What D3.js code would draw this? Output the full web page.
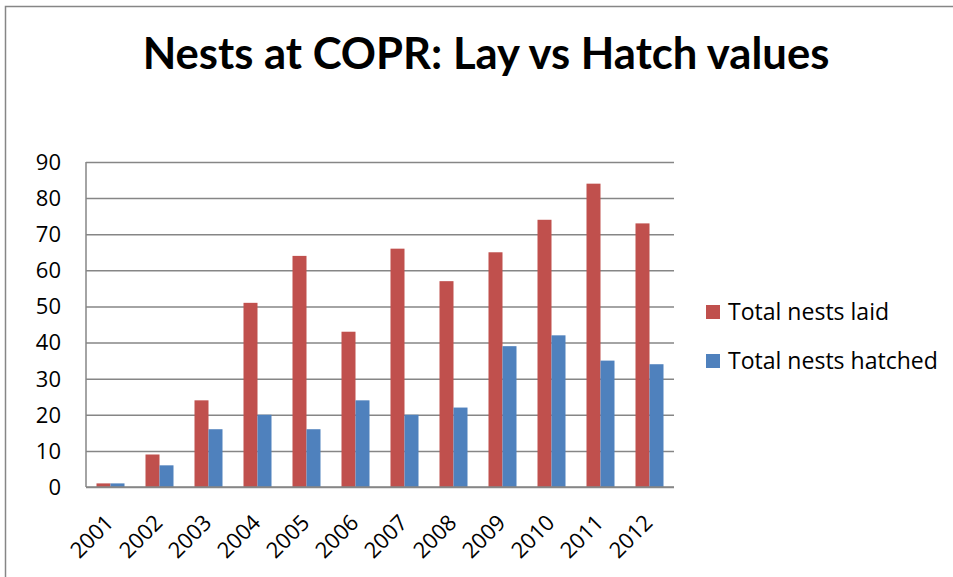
<!DOCTYPE html>
<html>
<head>
<meta charset="utf-8">
<script src="https://cdn.jsdelivr.net/npm/d3@7"></script>
<style>
  body { margin: 0; background: #fff; }
  text { font-family: "Open Sans", Lato, sans-serif; fill: #000; }
</style>
</head>
<body>
<svg id="chart"></svg>
<script>
// data
const years = ["2001", "2002", "2003", "2004", "2005", "2006", "2007", "2008", "2009", "2010", "2011", "2012"];
const laid = [1, 9, 24, 51, 64, 43, 66, 57, 65, 74, 84, 73];
const hatched = [1, 6, 16, 20, 16, 24, 20, 22, 39, 42, 35, 34];
const seriesNames = ["Total nests laid", "Total nests hatched"];
const seriesColors = ["#C0504D", "#4F81BD"];
const yTicks = [0, 10, 20, 30, 40, 50, 60, 70, 80, 90];

const width = 953, height = 577;
const margin = { top: 162, right: 279, bottom: 90, left: 86 };

const svg = d3.select("#chart")
    .attr("width", width)
    .attr("height", height);

// outer chart frame (right and bottom edges fall outside the picture)
svg.append("rect")
    .attr("x", 5.5).attr("y", 6.5)
    .attr("width", 960).attr("height", 600)
    .attr("fill", "none")
    .attr("stroke", "#868686")
    .attr("stroke-width", 1.5);

// title, fitted to the reference width
const title = svg.append("text")
    .attr("x", 486)
    .attr("y", 69)
    .attr("text-anchor", "middle")
    .style("font-family", "Lato, sans-serif")
    .style("font-weight", 700)
    .style("font-size", "40px")
    .text("Nests at COPR: Lay vs Hatch values");
const tw = title.node().getComputedTextLength();
title.style("font-size", (40 * 687 / tw) + "px");

const x0 = d3.scaleBand()
    .domain(years)
    .range([margin.left, width - margin.right])
    .paddingInner(21 / 49)
    .paddingOuter(10.5 / 49);

const x1 = d3.scaleBand()
    .domain(seriesNames)
    .range([0, x0.bandwidth()]);

const y = d3.scaleLinear()
    .domain([0, 90])
    .range([height - margin.bottom, margin.top]);

const color = d3.scaleOrdinal()
    .domain(seriesNames)
    .range(seriesColors);

// gridlines
const yAxis = d3.axisLeft(y)
    .tickValues(yTicks)
    .tickSize(-(width - margin.left - margin.right))
    .tickFormat("");

svg.append("g")
    .attr("class", "grid")
    .attr("transform", `translate(${margin.left},0)`)
    .call(yAxis)
    .call(g => g.select(".domain").remove())
    .call(g => g.selectAll("line")
        .attr("stroke", "#868686")
        .attr("stroke-width", 1.5));

// y tick labels
svg.append("g")
    .selectAll("text")
    .data(yTicks)
    .enter()
    .append("text")
    .attr("x", 61)
    .attr("y", d => y(d))
    .attr("dy", "0.36em")
    .attr("text-anchor", "end")
    .style("font-size", "22px")
    .text(d => d);

// bars
const rows = years.map((yr, i) => ({ year: yr, values: [laid[i], hatched[i]] }));

svg.append("g")
    .selectAll("g")
    .data(rows)
    .enter()
    .append("g")
    .attr("transform", d => `translate(${x0(d.year)},0)`)
    .selectAll("rect")
    .data(d => d.values.map((v, j) => ({ series: seriesNames[j], value: v })))
    .enter()
    .append("rect")
    .attr("x", d => x1(d.series))
    .attr("y", d => y(d.value))
    .attr("width", x1.bandwidth())
    .attr("height", d => y(0) - y(d.value))
    .attr("fill", d => color(d.series));

// axis lines
svg.append("line")
    .attr("x1", margin.left).attr("x2", width - margin.right)
    .attr("y1", y(0)).attr("y2", y(0))
    .attr("stroke", "#868686").attr("stroke-width", 1.5);
svg.append("line")
    .attr("x1", margin.left).attr("x2", margin.left)
    .attr("y1", y(90)).attr("y2", y(0))
    .attr("stroke", "#868686").attr("stroke-width", 1.5);

// rotated year labels
svg.append("g")
    .selectAll("text")
    .data(years)
    .enter()
    .append("text")
    .attr("text-anchor", "end")
    .attr("transform", d => `translate(${x0(d) + x0.bandwidth() / 2 + 4.5},${y(0) + 37}) rotate(-45)`)
    .style("font-size", "22px")
    .text(d => d);

// legend
const legend = svg.append("g")
    .attr("transform", "translate(706,305)");

const item = legend.selectAll("g")
    .data(seriesNames)
    .enter()
    .append("g")
    .attr("transform", (d, i) => `translate(0,${i * 49})`);

item.append("rect")
    .attr("width", 14)
    .attr("height", 14)
    .attr("fill", d => color(d));

const labels = item.append("text")
    .attr("x", 22)
    .attr("y", 7)
    .attr("dy", "0.36em")
    .style("font-size", "21px")
    .text(d => d);

// fit legend text to the reference width of the longer label
const lw = d3.max(labels.nodes(), n => n.getComputedTextLength());
labels.style("font-size", (21 * 210 / lw) + "px");
</script>
</body>
</html>
